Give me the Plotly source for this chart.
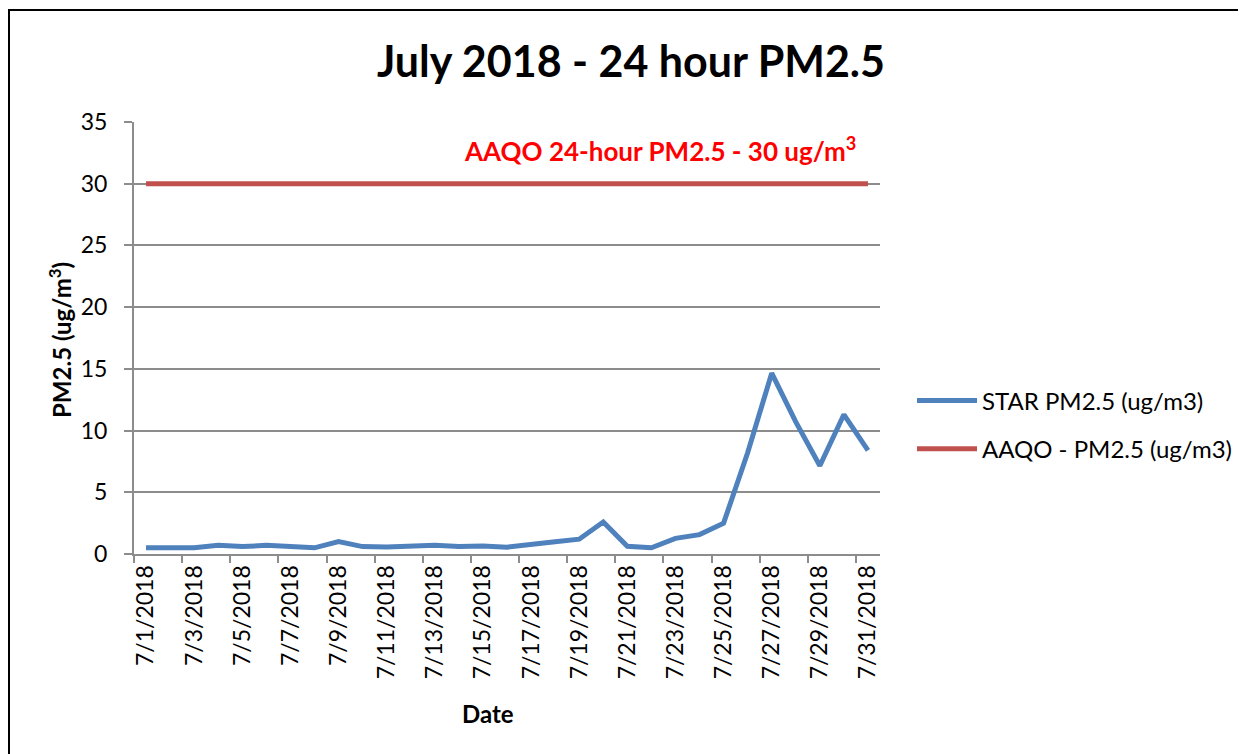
import plotly.graph_objects as go

dates = [f"7/{d}/2018" for d in range(1, 32)]
star_pm25 = [0.5, 0.5, 0.5, 0.7, 0.6, 0.7, 0.6, 0.5, 1.0, 0.6,
             0.56, 0.6, 0.7, 0.6, 0.65, 0.55, 0.73, 1.0, 1.2, 2.6,
             0.62, 0.5, 1.27, 1.57, 2.5, 8.2, 14.65, 10.7, 7.15, 11.3, 8.4]
aaqo_pm25 = [30] * 31
tick_labels = dates[::2]

FONT = "Lato"
GRID = "#8c8c8c"
BLUE = "#4F81BD"
RED = "#C0504D"
OFF = 8  # page body offset

# plot area in page pixels
PL, PR, PT, PB = 134, 880, 122, 554
W, H = 1246, 754
pw, ph = PR - PL, PB - PT


def px(x):
    return (x - PL) / pw


def py(y):
    return (PB - y) / ph


fig = go.Figure()
fig.add_trace(go.Scatter(x=dates, y=star_pm25, mode="lines", name="STAR PM2.5 (ug/m3)",
                         line=dict(color=BLUE, width=5), legendgroup="a"))
fig.add_trace(go.Scatter(x=dates, y=aaqo_pm25, mode="lines", name="AAQO - PM2.5 (ug/m3)",
                         line=dict(color=RED, width=5), legendgroup="b"))
fig.add_trace(go.Scatter(x=[0], y=[0], xaxis="x2", mode="markers",
                         marker=dict(opacity=0), showlegend=False, hoverinfo="skip"))

n = len(dates)
fig.update_layout(
    width=W, height=H,
    margin=dict(l=PL - OFF, r=W - PR + OFF, t=PT - OFF, b=H - PB + OFF),
    paper_bgcolor="white", plot_bgcolor="white",
    font=dict(family=FONT, color="black", size=22),
    title=dict(text="<b>July 2018 - 24 hour PM2.5</b>", font=dict(size=43, family=FONT),
               x=(631 - OFF) / W, xanchor="center", xref="container",
               y=1 - (62 - OFF) / H, yanchor="middle", yref="container"),
    xaxis=dict(type="category", categoryorder="array", categoryarray=dates,
               range=[-0.5, n - 0.5], tickvals=tick_labels, ticktext=tick_labels,
               tickangle=-90, ticks="", showgrid=False, showline=True,
               linecolor=GRID, linewidth=2, tickfont=dict(size=23)),
    xaxis2=dict(overlaying="x", side="bottom", range=[-0.5, n - 0.5],
                tickvals=[i - 0.5 for i in range(0, n, 2)], ticks="outside",
                ticklen=8, tickwidth=2, tickcolor=GRID, showticklabels=False,
                showgrid=False, showline=False, zeroline=False, fixedrange=True),
    yaxis=dict(range=[0, 35], dtick=5, tick0=0, showgrid=True, gridcolor=GRID,
               gridwidth=2, zeroline=False, showline=True, linecolor=GRID,
               linewidth=2, ticks="outside", ticklen=8, tickwidth=2,
               tickcolor=GRID, tickfont=dict(size=23), ticklabelstandoff=12),
    legend=dict(x=px(912), xanchor="left", y=py(425),
                yanchor="middle", font=dict(size=24), traceorder="grouped",
                tracegroupgap=14, itemwidth=60, bgcolor="rgba(0,0,0,0)"),
    showlegend=True,
)

fig.add_annotation(text="<b>PM2.5 (ug/m<sup>3</sup>)</b>", xref="paper", yref="paper",
                   x=px(60), y=py(340), textangle=-90, showarrow=False,
                   font=dict(size=24), xanchor="center", yanchor="middle")
fig.add_annotation(text="<b>Date</b>", xref="paper", yref="paper",
                   x=px(488), y=py(713), showarrow=False,
                   font=dict(size=24), xanchor="center", yanchor="middle")
fig.add_annotation(text="<b>AAQO 24-hour PM2.5 - 30 ug/m<sup>3</sup></b>", xref="paper",
                   yref="paper", x=px(660), y=py(150),
                   showarrow=False, font=dict(size=26, color="#FF0000"),
                   xanchor="center", yanchor="middle")

fig.add_shape(type="rect", xref="paper", yref="paper",
              x0=px(9), x1=1.8, y0=-0.6, y1=py(10),
              line=dict(color="black", width=2), fillcolor="rgba(0,0,0,0)", layer="above")

fig.write_html("out.html")
